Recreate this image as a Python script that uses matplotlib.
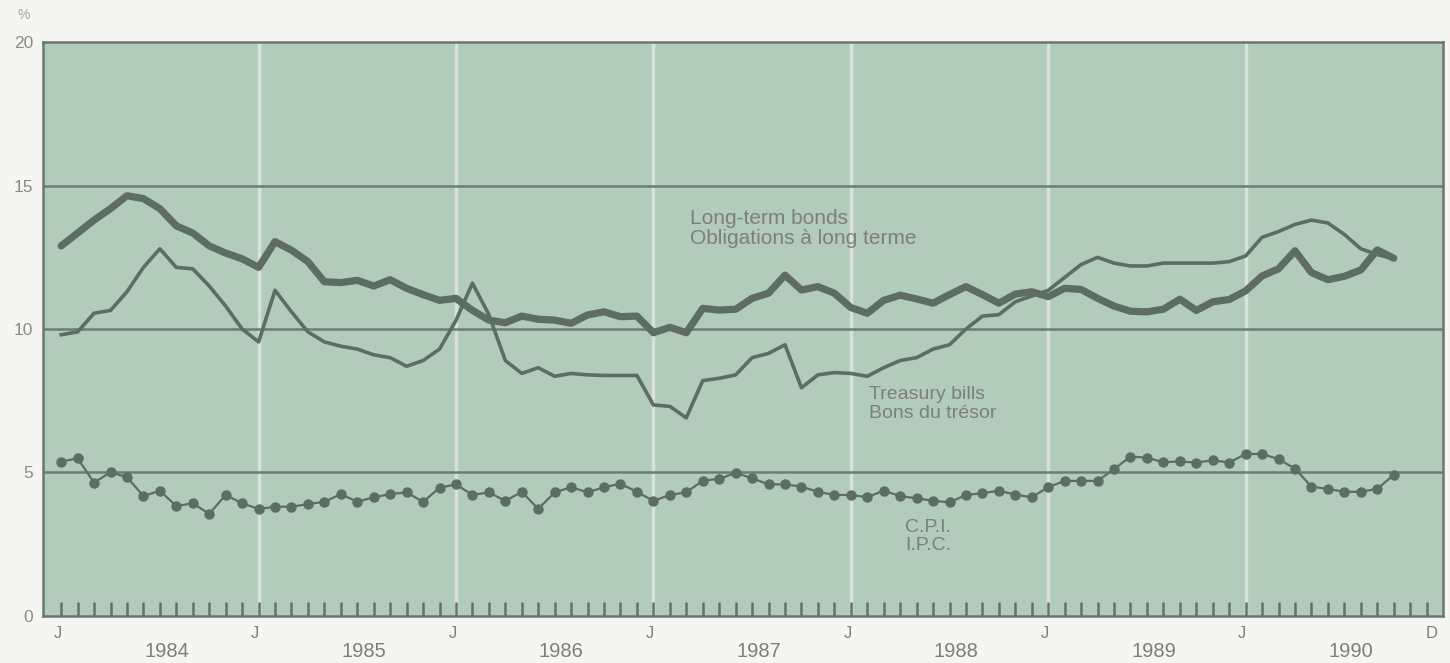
import matplotlib.pyplot as plt
import numpy as np

# monthly, Jan 1984 .. Oct 1990
bonds = [12.9, 13.35, 13.8, 14.2, 14.65, 14.55, 14.2, 13.6, 13.35, 12.9, 12.65, 12.45,
         12.15, 13.05, 12.75, 12.35, 11.65, 11.62, 11.7, 11.5, 11.72, 11.42, 11.2, 11.0,
         11.07, 10.65, 10.31, 10.22, 10.45, 10.34, 10.31, 10.2, 10.49, 10.6, 10.43, 10.45,
         9.87, 10.06, 9.87, 10.72, 10.66, 10.69, 11.07, 11.25, 11.88, 11.36, 11.48, 11.25,
         10.75, 10.55, 11.0, 11.18, 11.05, 10.9, 11.2, 11.48, 11.2, 10.9, 11.22, 11.3,
         11.13, 11.42, 11.38, 11.07, 10.8, 10.62, 10.6, 10.69, 11.04, 10.65, 10.95, 11.03,
         11.33, 11.85, 12.1, 12.73, 11.97, 11.72, 11.84, 12.06, 12.76, 12.47]
tbills = [9.8, 9.9, 10.55, 10.65, 11.3, 12.15, 12.8, 12.15, 12.1, 11.5, 10.8, 10.0,
          9.55, 11.35, 10.6, 9.9, 9.55, 9.4, 9.3, 9.1, 9.0, 8.7, 8.9, 9.3,
          10.3, 11.6, 10.5, 8.9, 8.45, 8.65, 8.35, 8.45, 8.4, 8.38, 8.38, 8.38,
          7.35, 7.3, 6.9, 8.2, 8.28, 8.4, 9.0, 9.15, 9.45, 7.95, 8.4, 8.48,
          8.45, 8.35, 8.65, 8.9, 9.0, 9.3, 9.45, 10.0, 10.45, 10.5, 10.95, 11.15,
          11.35, 11.8, 12.25, 12.5, 12.3, 12.2, 12.2, 12.3, 12.3, 12.3, 12.3, 12.35,
          12.55, 13.2, 13.4, 13.65, 13.8, 13.7, 13.3, 12.8, 12.6, 12.45]
cpi = [5.37, 5.49, 4.64, 5.0, 4.83, 4.17, 4.36, 3.82, 3.92, 3.55, 4.21, 3.92,
       3.72, 3.80, 3.80, 3.89, 3.97, 4.24, 3.97, 4.13, 4.24, 4.30, 3.97, 4.46,
       4.58, 4.21, 4.30, 4.0, 4.32, 3.72, 4.30, 4.48, 4.30, 4.48, 4.60, 4.32,
       4.0, 4.21, 4.30, 4.71, 4.77, 4.98, 4.79, 4.58, 4.58, 4.50, 4.32, 4.21,
       4.21, 4.13, 4.36, 4.17, 4.09, 4.01, 3.95, 4.21, 4.27, 4.36, 4.22, 4.13,
       4.48, 4.70, 4.70, 4.70, 5.11, 5.55, 5.51, 5.35, 5.38, 5.34, 5.42, 5.34,
       5.64, 5.64, 5.46, 5.13, 4.50, 4.42, 4.32, 4.32, 4.42, 4.91]
years = ['1984', '1985', '1986', '1987', '1988', '1989', '1990']
yticks = [0, 5, 10, 15, 20]

plt.rcParams['font.family'] = ['Liberation Sans', 'DejaVu Sans']
txt = '#7d7f7c'
line_c = '#5d6d62'
bg = '#b3cbb9'

fig = plt.figure(figsize=(14.5, 6.63), dpi=100, facecolor='#f5f5f3')
ax = fig.add_axes([0.0297, 0.0715, 0.9655, 0.8645])
ax.set_facecolor(bg)

x = np.arange(len(bonds))
ax.set_xlim(-1.1, 84)
ax.set_ylim(0, 20)

# white vertical year separators
for k in range(1, len(years)):
    ax.axvline(12 * k, color='#d6e4d8', lw=2.5, zorder=1)
# horizontal grid
for v in [5, 10, 15]:
    ax.axhline(v, color='#6e7c72', lw=1.8, zorder=2)

ax.plot(np.arange(len(tbills)), tbills, color=line_c, lw=2.6, zorder=3, solid_joinstyle='round')
ax.plot(x, bonds, color=line_c, lw=5.2, zorder=4, solid_joinstyle='round', solid_capstyle='round')
ax.plot(np.arange(len(cpi)), cpi, color=line_c, lw=1.6, marker='o', ms=6.5, zorder=4)

for s in ax.spines.values():
    s.set_color('#6b776e')
    s.set_linewidth(1.8)

# monthly ticks inside
ax.set_xticks(np.arange(84))
ax.tick_params(axis='x', direction='in', length=10, width=1.8, color='#66736a', labelbottom=False)
ax.set_yticks(yticks)
ax.tick_params(axis='y', length=0, pad=7, labelsize=12.5, labelcolor='#8a8c89')

for k in range(len(years)):
    ax.text(12 * k - 0.2, -0.62, 'J', ha='center', va='center', fontsize=12, color=txt)
    ax.text(12 * k + 6.4, -1.27, years[k], ha='center', va='center', fontsize=14.5, color=txt)
ax.text(83.3, -0.62, 'D', ha='center', va='center', fontsize=12, color=txt)

fig.text(0.012, 0.978, '%', fontsize=10, color='#a0a29f', va='center')

ax.text(38.25, 13.5, 'Long-term bonds\nObligations à long terme', fontsize=15,
        color=txt, linespacing=1.1, va='center')
ax.text(49.1, 7.38, 'Treasury bills\nBons du trésor', fontsize=14,
        color=txt, linespacing=1.1, va='center')
ax.text(51.3, 2.76, 'C.P.I.\nI.P.C.', fontsize=14, color=txt, linespacing=1.1, va='center')

plt.savefig('out.png', dpi=100, facecolor=fig.get_facecolor())
